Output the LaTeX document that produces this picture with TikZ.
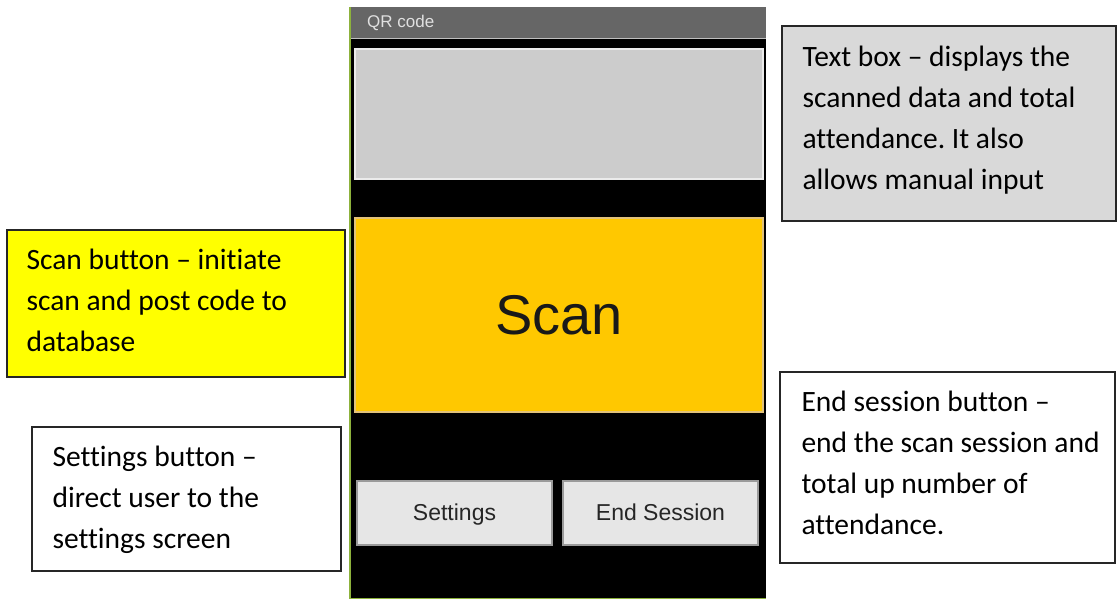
\documentclass[tikz,border=0pt]{standalone}
\usepackage{fontspec}
\setmainfont{Carlito}[Ligatures=CommonOff]
\newfontfamily\arialf{Liberation Sans}
\frenchspacing
\definecolor{bargray}{HTML}{666666}
\definecolor{boxgray}{HTML}{CCCCCC}
\definecolor{calgray}{HTML}{D9D9D9}
\definecolor{scanyel}{HTML}{FFC800}
\definecolor{scanedge}{HTML}{E2C27A}
\definecolor{btnfill}{HTML}{E6E6E6}
\definecolor{btnedge}{HTML}{9A9A9A}
\definecolor{phgreen}{HTML}{8DB23C}
\definecolor{calyel}{HTML}{FFFF00}
\begin{document}
\begin{tikzpicture}[x=1pt,y=-1pt,
  callout/.style={draw=black!85, line width=1.3pt, inner sep=0pt},
  callouttext/.style={anchor=west, inner sep=0pt, align=flush left,
    font=\fontsize{29.5}{41}\selectfont},
  uibtn/.style={fill=btnfill, draw=btnedge, line width=1.2pt, inner sep=0pt,
    font=\arialf\fontsize{23}{26}\selectfont, text=black!85, text height=17pt, text depth=2pt}]
\useasboundingbox (0,0) rectangle (1117,599);
\fill[white] (0,0) rectangle (1117,599);
% phone
\fill[black] (349,39) rectangle (766,599);
\node[fill=bargray, minimum width=417pt, minimum height=32pt, inner sep=0pt, anchor=north west] (bar) at (349,7) {};
\draw[white!75!black, line width=0.8pt] (349,38.5) -- (766,38.5);
\node[anchor=west, text=white!88!black, font=\arialf\fontsize{17}{20}\selectfont, inner sep=0pt] (title) at (367,23) {QR code};
\draw[phgreen, line width=2pt] (350,7) -- (350,599);
\draw[phgreen, line width=1pt] (349,598.5) -- (766,598.5);
\node[fill=boxgray, draw=white!92!black, line width=1.5pt, minimum width=408pt, minimum height=130pt, inner sep=0pt] (tbox) at (559,114) {};
\node[fill=scanyel, draw=scanedge, line width=1.5pt, minimum width=408pt, minimum height=194pt, inner sep=0pt,
  font=\arialf\fontsize{56}{64}\selectfont, text=black!90] (scan) at (559,315) {Scan};
\node[uibtn, minimum width=195pt, minimum height=64pt] (set) at (454.5,513) {Settings};
\node[uibtn, minimum width=195pt, minimum height=64pt] (end) at (660.5,513) {End Session};
% callouts
\node[callout, fill=calgray, minimum width=334pt, minimum height=195pt] (ctb) at (949,123.5) {};
\node[callouttext] (ctbt) at ([xshift=21pt,yshift=3pt]ctb.west)
  {Text box -- displays the\\scanned data and total\\attendance. It also\\allows manual input};
\node[callout, fill=calyel, minimum width=338pt, minimum height=147pt] (cscan) at (176,303.5) {};
\node[callouttext] (cscant) at ([xshift=20pt,yshift=3pt]cscan.west)
  {Scan button -- initiate\\scan and post code to\\database};
\node[callout, fill=white, minimum width=309pt, minimum height=144pt] (cset) at (186.5,499) {};
\node[callouttext] (csett) at ([xshift=21pt,yshift=-1pt]cset.west)
  {Settings button --\\direct user to the\\settings screen};
\node[callout, fill=white, minimum width=335pt, minimum height=191pt] (cend) at (947.5,467.5) {};
\node[callouttext] (cendt) at ([xshift=22pt,yshift=5pt]cend.west)
  {End session button --\\end the scan session and\\total up number of\\attendance.};
\end{tikzpicture}
\end{document}
